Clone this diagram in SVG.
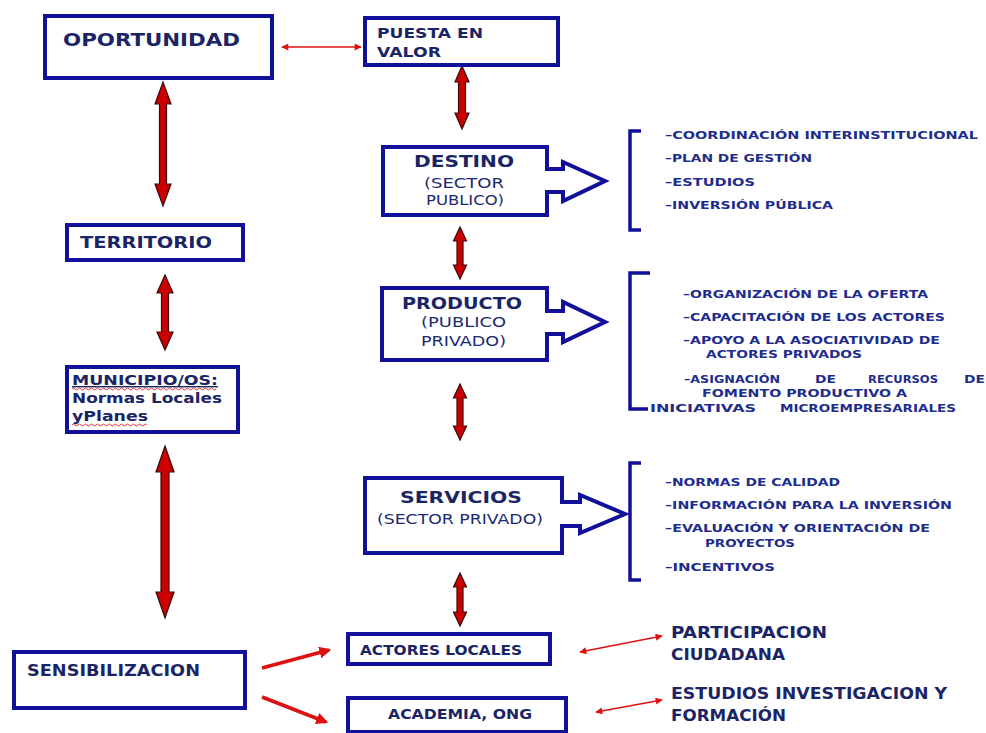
<svg xmlns="http://www.w3.org/2000/svg" width="986" height="733" viewBox="0 0 986 733">
<defs>
<style>
.box{fill:#fff;stroke:#10109a;stroke-width:4}
.t{font-family:"DejaVu Sans",Verdana,sans-serif;font-weight:bold;fill:#1b2566}
.r{font-family:"DejaVu Sans",Verdana,sans-serif;font-weight:normal;fill:#1b2a70}
.li{font-family:"DejaVu Sans",Verdana,sans-serif;font-weight:bold;font-size:10.5px;fill:#1e2d8c}
.big{fill:#cc0000;stroke:#3a0a0a;stroke-width:1.2}
.thin{stroke:#dd1111;stroke-width:1.5;fill:none}
.med{stroke:#dd1111;stroke-width:3.5;fill:none}
.br{fill:none;stroke:#10109a;stroke-width:3.5}
</style>
<marker id="ah" viewBox="0 0 10 10" refX="9" refY="5" markerWidth="8" markerHeight="7" orient="auto-start-reverse" markerUnits="userSpaceOnUse"><path d="M0,0 L10,5 L0,10 Z" fill="#dd1111"/></marker>
<marker id="ah2" viewBox="0 0 10 10" refX="8" refY="5" markerWidth="12" markerHeight="12" orient="auto" markerUnits="userSpaceOnUse"><path d="M0,0 L10,5 L0,10 Z" fill="#dd1111"/></marker>
</defs>

<g id="connectors">
<line class="thin" x1="282" y1="47" x2="361" y2="47" marker-start="url(#ah)" marker-end="url(#ah)"/>
<polygon class="big" points="163,82 171,104 166.5,104 166.5,184 171,184 163,206 155,184 159.5,184 159.5,104 155,104"/>
<polygon class="big" points="462,66 469,82 465.5,82 465.5,113 469,113 462,129 455,113 458.5,113 458.5,82 455,82"/>
<polygon class="big" points="460,227 466.5,241 463,241 463,265 466.5,265 460,279 453.5,265 457,265 457,241 453.5,241"/>
<polygon class="big" points="165,275 173,293 168.5,293 168.5,332 173,332 165,350 157,332 161.5,332 161.5,293 157,293"/>
<polygon class="big" points="460,384 466.5,398 463,398 463,426 466.5,426 460,440 453.5,426 457,426 457,398 453.5,398"/>
<polygon class="big" points="165,446 174,472 169,472 169,592 174,592 165,618 156,592 161,592 161,472 156,472"/>
<polygon class="big" points="460,573 466.5,587 463,587 463,612 466.5,612 460,626 453.5,612 457,612 457,587 453.5,587"/>
<line class="med" x1="262" y1="668" x2="329" y2="650" marker-end="url(#ah2)"/>
<line class="med" x1="262" y1="697" x2="326" y2="722" marker-end="url(#ah2)"/>
<line class="thin" x1="580" y1="652" x2="662" y2="636" marker-start="url(#ah)" marker-end="url(#ah)"/>
<line class="thin" x1="596" y1="712" x2="662" y2="700" marker-start="url(#ah)" marker-end="url(#ah)"/>
</g>

<g id="oportunidad">
<rect class="box" x="45" y="16" width="227" height="62"/>
<text class="t" x="63" y="46" font-size="17" textLength="177" lengthAdjust="spacingAndGlyphs">OPORTUNIDAD</text>
</g>

<g id="puesta">
<rect class="box" x="365" y="18" width="193" height="47"/>
<text class="t" x="377" y="38" font-size="14" textLength="106" lengthAdjust="spacingAndGlyphs">PUESTA EN</text>
<text class="t" x="377" y="57" font-size="14" textLength="64" lengthAdjust="spacingAndGlyphs">VALOR</text>
</g>

<g id="destino">
<path class="box" d="M383,147 H547 V169 H563 V162 L605,181 L563,201 V192 H547 V215 H383 Z"/>
<text class="t" x="414" y="167" font-size="15" textLength="100" lengthAdjust="spacingAndGlyphs">DESTINO</text>
<text class="r" x="424" y="188" font-size="14" textLength="80" lengthAdjust="spacingAndGlyphs">(SECTOR</text>
<text class="r" x="426" y="205" font-size="14" textLength="78" lengthAdjust="spacingAndGlyphs">PUBLICO)</text>
</g>

<g id="lista-destino">
<path class="br" d="M641,131 H630 V230 H641"/>
<text class="li" x="665" y="139" textLength="313" lengthAdjust="spacingAndGlyphs">–COORDINACIÓN INTERINSTITUCIONAL</text>
<text class="li" x="665" y="162" textLength="147" lengthAdjust="spacingAndGlyphs">–PLAN DE GESTIÓN</text>
<text class="li" x="665" y="186" textLength="90" lengthAdjust="spacingAndGlyphs">–ESTUDIOS</text>
<text class="li" x="665" y="209" textLength="168" lengthAdjust="spacingAndGlyphs">–INVERSIÓN PÚBLICA</text>
</g>

<g id="territorio">
<rect class="box" x="67" y="225" width="176" height="35"/>
<text class="t" x="80" y="248" font-size="15" textLength="132" lengthAdjust="spacingAndGlyphs">TERRITORIO</text>
</g>

<g id="producto">
<path class="box" d="M382,288 H547 V311 H563 V302 L605,322 L563,342 V334 H547 V360 H382 Z"/>
<text class="t" x="402" y="309" font-size="15" textLength="120" lengthAdjust="spacingAndGlyphs">PRODUCTO</text>
<text class="r" x="421" y="327" font-size="14" textLength="85" lengthAdjust="spacingAndGlyphs">(PUBLICO</text>
<text class="r" x="421" y="346" font-size="14" textLength="85" lengthAdjust="spacingAndGlyphs">PRIVADO)</text>
</g>

<g id="lista-producto">
<path class="br" d="M650,273 H630 V409 H648"/>
<text class="li" x="683" y="298" textLength="245" lengthAdjust="spacingAndGlyphs">–ORGANIZACIÓN DE LA OFERTA</text>
<text class="li" x="683" y="321" textLength="262" lengthAdjust="spacingAndGlyphs">–CAPACITACIÓN DE LOS ACTORES</text>
<text class="li" x="683" y="344" textLength="257" lengthAdjust="spacingAndGlyphs">–APOYO A LA ASOCIATIVIDAD DE</text>
<text class="li" x="706" y="358" textLength="156" lengthAdjust="spacingAndGlyphs">ACTORES PRIVADOS</text>
<text class="li" x="684" y="383" textLength="96" lengthAdjust="spacingAndGlyphs">–ASIGNACIÓN</text>
<text class="li" x="815" y="383" textLength="21" lengthAdjust="spacingAndGlyphs">DE</text>
<text class="li" x="868" y="383" textLength="70" lengthAdjust="spacingAndGlyphs">RECURSOS</text>
<text class="li" x="964" y="383" textLength="21" lengthAdjust="spacingAndGlyphs">DE</text>
<text class="li" x="702" y="397" textLength="205" lengthAdjust="spacingAndGlyphs">FOMENTO PRODUCTIVO A</text>
<text class="li" x="650" y="412" textLength="106" lengthAdjust="spacingAndGlyphs">INICIATIVAS</text>
<text class="li" x="780" y="412" textLength="176" lengthAdjust="spacingAndGlyphs">MICROEMPRESARIALES</text>
</g>

<g id="municipio">
<rect class="box" x="67" y="367" width="171" height="65"/>
<text class="t" x="72" y="385" font-size="14" textLength="146" lengthAdjust="spacingAndGlyphs" text-decoration="underline">MUNICIPIO/OS:</text>
<path d="M72,389 q1.5,-2 3,0 t3,0 t3,0 t3,0 t3,0 t3,0 t3,0 t3,0 t3,0 t3,0 t3,0 t3,0 t3,0 t3,0 t3,0 t3,0 t3,0 t3,0 t3,0 t3,0 t3,0 t3,0 t3,0 t3,0 t3,0 t3,0 t3,0 t3,0 t3,0 t3,0 t3,0 t3,0 t3,0 t3,0 t3,0 t3,0 t3,0 t3,0 t3,0 t3,0 t3,0 t3,0 t3,0 t3,0 t3,0 t3,0 t3,0 t3,0" fill="none" stroke="#e02020" stroke-width="0.9"/>
<text class="t" x="72" y="403" font-size="14" textLength="150" lengthAdjust="spacingAndGlyphs">Normas Locales</text>
<text class="t" x="72" y="421" font-size="14" textLength="76" lengthAdjust="spacingAndGlyphs">yPlanes</text>
<path d="M72,425 q1.5,-2 3,0 t3,0 t3,0 t3,0 t3,0 t3,0 t3,0 t3,0 t3,0 t3,0 t3,0 t3,0 t3,0 t3,0 t3,0 t3,0 t3,0 t3,0 t3,0 t3,0 t3,0 t3,0 t3,0 t3,0 t3,0" fill="none" stroke="#e02020" stroke-width="0.9"/>
</g>

<g id="servicios">
<path class="box" d="M365,478 H562 V502 H580 V495 L625,514 L580,533 V526 H562 V553 H365 Z"/>
<text class="t" x="400" y="503" font-size="15" textLength="122" lengthAdjust="spacingAndGlyphs">SERVICIOS</text>
<text class="r" x="377" y="524" font-size="14" textLength="166" lengthAdjust="spacingAndGlyphs">(SECTOR PRIVADO)</text>
</g>

<g id="lista-servicios">
<path class="br" d="M641,463 H630 V580 H641"/>
<text class="li" x="665" y="486" textLength="175" lengthAdjust="spacingAndGlyphs">–NORMAS DE CALIDAD</text>
<text class="li" x="665" y="509" textLength="287" lengthAdjust="spacingAndGlyphs">–INFORMACIÓN PARA LA INVERSIÓN</text>
<text class="li" x="665" y="532" textLength="265" lengthAdjust="spacingAndGlyphs">–EVALUACIÓN Y ORIENTACIÓN DE</text>
<text class="li" x="705" y="547" textLength="90" lengthAdjust="spacingAndGlyphs">PROYECTOS</text>
<text class="li" x="665" y="571" textLength="110" lengthAdjust="spacingAndGlyphs">–INCENTIVOS</text>
</g>

<g id="sensibilizacion">
<rect class="box" x="14" y="652" width="231" height="56"/>
<text class="t" x="27" y="676" font-size="15" textLength="173" lengthAdjust="spacingAndGlyphs">SENSIBILIZACION</text>
</g>

<g id="actores">
<rect class="box" x="348" y="634" width="202" height="30"/>
<text class="t" x="360" y="655" font-size="14" textLength="162" lengthAdjust="spacingAndGlyphs">ACTORES LOCALES</text>
</g>

<g id="academia">
<rect class="box" x="348" y="698" width="218" height="34"/>
<text class="t" x="388" y="719" font-size="14" textLength="144" lengthAdjust="spacingAndGlyphs">ACADEMIA, ONG</text>
</g>

<g id="participacion">
<text class="t" x="671" y="638" font-size="15" textLength="156" lengthAdjust="spacingAndGlyphs">PARTICIPACION</text>
<text class="t" x="671" y="660" font-size="15" textLength="114" lengthAdjust="spacingAndGlyphs">CIUDADANA</text>
</g>

<g id="estudios">
<text class="t" x="671" y="699" font-size="15" textLength="276" lengthAdjust="spacingAndGlyphs">ESTUDIOS INVESTIGACION Y</text>
<text class="t" x="671" y="721" font-size="15" textLength="115" lengthAdjust="spacingAndGlyphs">FORMACIÓN</text>
</g>
</svg>
